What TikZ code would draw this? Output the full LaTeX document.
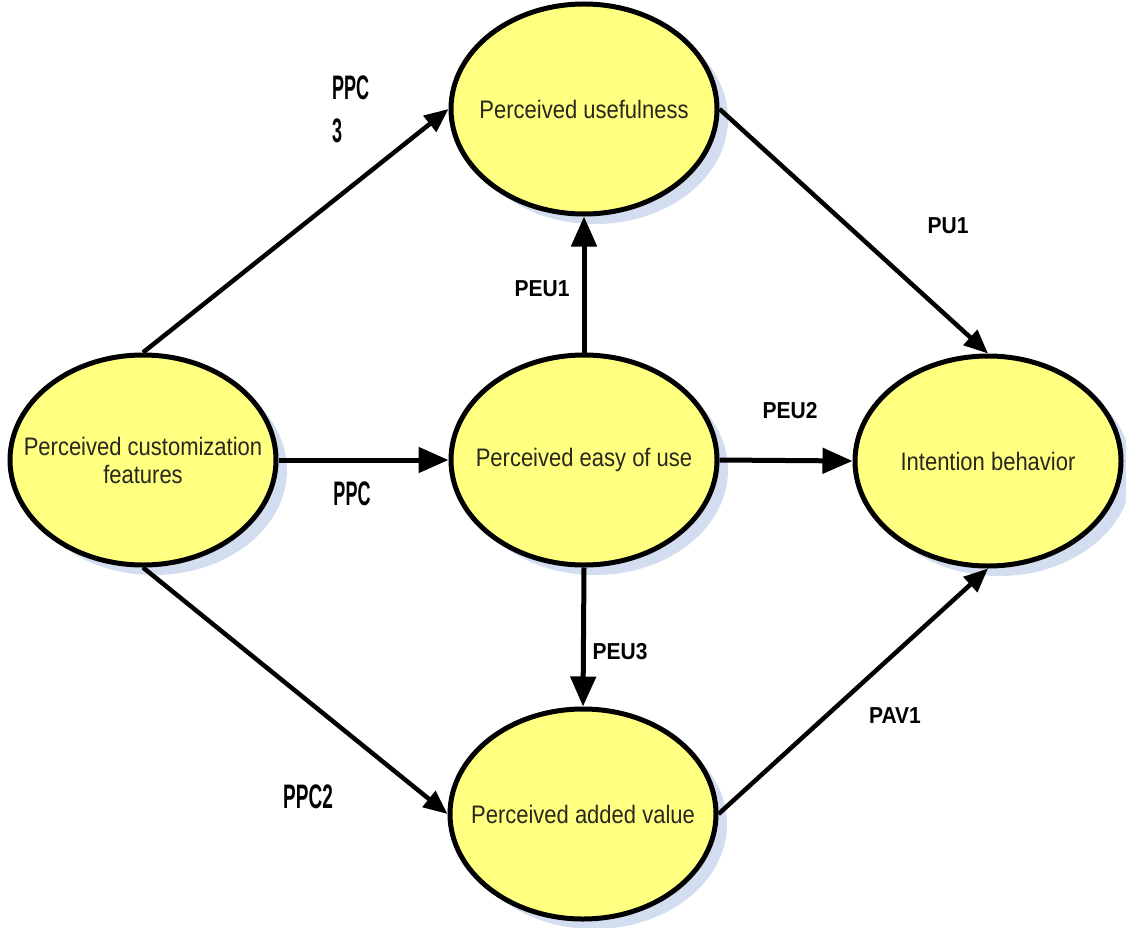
\documentclass[tikz,border=0pt]{standalone}
\usepackage{fontspec}
\setmainfont{Liberation Sans}
\usetikzlibrary{shapes.geometric,arrows.meta,shadows}
\definecolor{ellfill}{RGB}{255,255,128}
\definecolor{shadowblue}{RGB}{210,221,240}
\definecolor{etxt}{RGB}{40,40,30}
\begin{document}
\begin{tikzpicture}[x=1pt,y=-1pt,
  ell/.style={ellipse,draw=black,line width=5pt,fill=ellfill,minimum width=266pt,minimum height=210pt,inner sep=0pt,
    drop shadow={shadow xshift=11pt,shadow yshift=-10pt,fill=shadowblue,opacity=1}},
  etext/.style={inner sep=0pt,align=center,text=etxt,font=\fontsize{22}{26}\selectfont},
  conn/.style={line width=5pt,-{Triangle[length=30pt,width=25pt]}},
  diag/.style={line width=4.5pt,-{Triangle[length=24pt,width=20pt]}},
  lab/.style={font=\fontsize{21}{24}\selectfont\bfseries,inner sep=0pt},
  lab2/.style={font=\fontsize{20}{24}\selectfont\bfseries,inner sep=0pt}
]
\useasboundingbox (0,0) rectangle (1126,928);
\node[ell] (pu) at (584,109) {};
\node[ell] (pcf) at (143,460) {};
\node[ell] (peou) at (584,460) {};
\node[ell] (ib) at (988,461) {};
\node[ell] (pav) at (583,814) {};
\node[etext] (tpu) at (pu.center) {\scalebox{1}[1.15]{Perceived usefulness}};
\node[etext] (tpcf) at (pcf.center) {\scalebox{1}[1.15]{Perceived customization}\\[2pt]\scalebox{1}[1.15]{features}};
\node[etext] (tpeou) at (peou.center) {\scalebox{1}[1.15]{Perceived easy of use}};
\node[etext] (tib) at (ib.center) {\scalebox{1}[1.15]{Intention behavior}};
\node[etext] (tpav) at (pav.center) {\scalebox{1}[1.15]{Perceived added value}};

\draw[diag] (pcf.north) -- (pu.west);
\draw[conn] (pcf.east) -- (peou.west);
\draw[diag] (pcf.south) -- (pav.west);
\draw[conn] (peou.north) -- (pu.south);
\draw[conn] (peou.east) -- (ib.west);
\draw[conn] (peou.south) -- (pav.north);
\draw[diag] (pu.east) -- (ib.north);
\draw[diag] (pav.east) -- (ib.south);

\node[lab] (l1) at (948,226) {\scalebox{1}[1.1]{PU1}};
\node[lab] (l2) at (542,289) {\scalebox{1}[1.1]{PEU1}};
\node[lab] (l3) at (790,411) {\scalebox{1}[1.1]{PEU2}};
\node[lab] (l4) at (620,652) {\scalebox{1}[1.1]{PEU3}};
\node[lab] (l5) at (895,716) {\scalebox{1}[1.1]{PAV1}};
\node[lab2,anchor=west] (l6) at (332,88) {\scalebox{0.9}[1.7]{PPC}};
\node[lab2,anchor=west] (l7) at (332,131) {\scalebox{0.9}[1.7]{3}};
\node[lab2] (l8) at (352,494) {\scalebox{0.9}[1.7]{PPC}};
\node[lab2] (l9) at (308,797) {\scalebox{0.95}[1.7]{PPC2}};
\end{tikzpicture}
\end{document}
